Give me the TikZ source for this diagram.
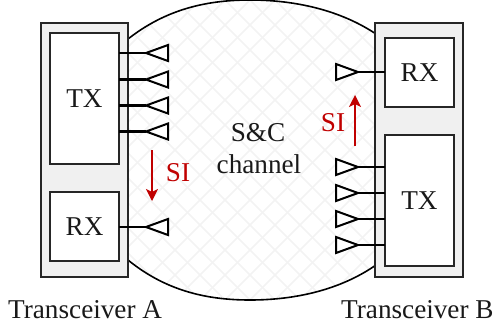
\documentclass[tikz,border=0pt]{standalone}
\usepackage{fontspec}
\setmainfont{Liberation Serif}
\usetikzlibrary{arrows.meta}
\definecolor{sired}{RGB}{192,0,0}
\definecolor{boxgray}{RGB}{240,240,240}
\definecolor{hatch}{RGB}{243,243,243}
\tikzset{
  x=1bp,y=-1bp,
  outerbox/.style={draw=black!85,line width=2bp,fill=boxgray},
  innerbox/.style={draw=black!85,line width=2bp,fill=white,font=\fontsize{27.3}{27.3}\selectfont,text=black!90,inner sep=0pt,outer sep=0pt,anchor=north west},
  antenna/.style={draw=black,line width=2bp,fill=white,line join=miter},
  feed/.style={draw=black,line width=2.2bp},
  channel/.style={draw=black,line width=1.6bp},
  siarrow/.style={draw=sired,line width=1.5bp,-{Stealth[length=12bp,width=12bp,inset=3bp]}},
  silabel/.style={text=sired,font=\fontsize{27.3}{27.3}\selectfont},
  lab/.style={font=\fontsize{27.3}{27.3}\selectfont,text=black!90,align=center},
}
\newcommand{\antR}[3]{% name, tip x, y : opens to the right
  \path[antenna] (#2,#3) -- (#2+22,#3-8) -- (#2+22,#3+8) -- cycle;
  \coordinate (#1) at (#2,#3);}
\newcommand{\antL}[3]{% name, tip x, y : opens to the left
  \path[antenna] (#2,#3) -- (#2-22,#3-8) -- (#2-22,#3+8) -- cycle;
  \coordinate (#1) at (#2,#3);}
\begin{document}
\begin{tikzpicture}
\useasboundingbox (0,0) rectangle (495,328);
% channel
\begin{scope}
\clip (128,39) .. controls (165,10) and (205,0) .. (250,0) .. controls (295,0) and (340,10) .. (376,34) -- (376,265) .. controls (340,290) and (295,300) .. (250,300) .. controls (205,300) and (165,290) .. (128,260) -- cycle;
\foreach \k in {-20,...,30}{
  \draw[hatch,line width=1.6bp] (\k*25,0) -- ++(330,330);
  \draw[hatch,line width=1.6bp] (\k*25,0) -- ++(-330,330);
}
\end{scope}
\coordinate (tl) at (128,39);\coordinate (tr) at (376,34);
\coordinate (bl) at (128,260);\coordinate (br) at (376,265);
\coordinate (tt) at (250,0);\coordinate (bb) at (250,300);
\draw[channel] (tl) .. controls (165,10) and (205,0) .. (tt) .. controls (295,0) and (340,10) .. (tr);
\draw[channel] (bl) .. controls (165,290) and (205,300) .. (bb) .. controls (295,300) and (340,290) .. (br);
% boxes
\path[outerbox] (41,23) rectangle (128,277);
\path[outerbox] (375,23) rectangle (463,277);
\node[innerbox,minimum width=69bp,minimum height=131bp] (txa) at (50,33) {TX};
\node[innerbox,minimum width=69bp,minimum height=69bp] (rxa) at (50,192) {RX};
\node[innerbox,minimum width=69bp,minimum height=69bp] (rxb) at (385,38) {RX};
\node[innerbox,minimum width=69bp,minimum height=131bp] (txb) at (385,135) {TX};
% antennas A
\foreach \n/\y in {a1/53,a2/79.5,a3/105.5,a4/131.5,a5/227}{
  \antR{\n}{146}{\y}
  \draw[feed] (119,\y) -- (\n);
}
\foreach \n/\y in {b1/72,b2/167,b3/193,b4/219,b5/245}{
  \antL{\n}{358}{\y}
  \draw[feed] (385,\y) -- (\n);
}
% SI
\coordinate (s1a) at (152,150);\coordinate (s1b) at (152,201);
\draw[siarrow] (s1a) -- (s1b);
\node[silabel] (si1) at (178,173) {SI};
\coordinate (s2a) at (355,146);\coordinate (s2b) at (355,95);
\draw[siarrow] (s2a) -- (s2b);
\node[silabel] (si2) at (333,123) {SI};
% text
\node[lab,anchor=base,inner sep=0pt] (ch1) at (258,141) {S\&C};
\node[lab,anchor=base,inner sep=0pt] (ch2) at (259,173) {channel};
\node[lab,anchor=base west,inner sep=0pt] (la) at (8,318) {Transceiver A};
\node[lab,anchor=base west,inner sep=0pt] (lb) at (341,318) {Transceiver B};
\end{tikzpicture}
\end{document}
